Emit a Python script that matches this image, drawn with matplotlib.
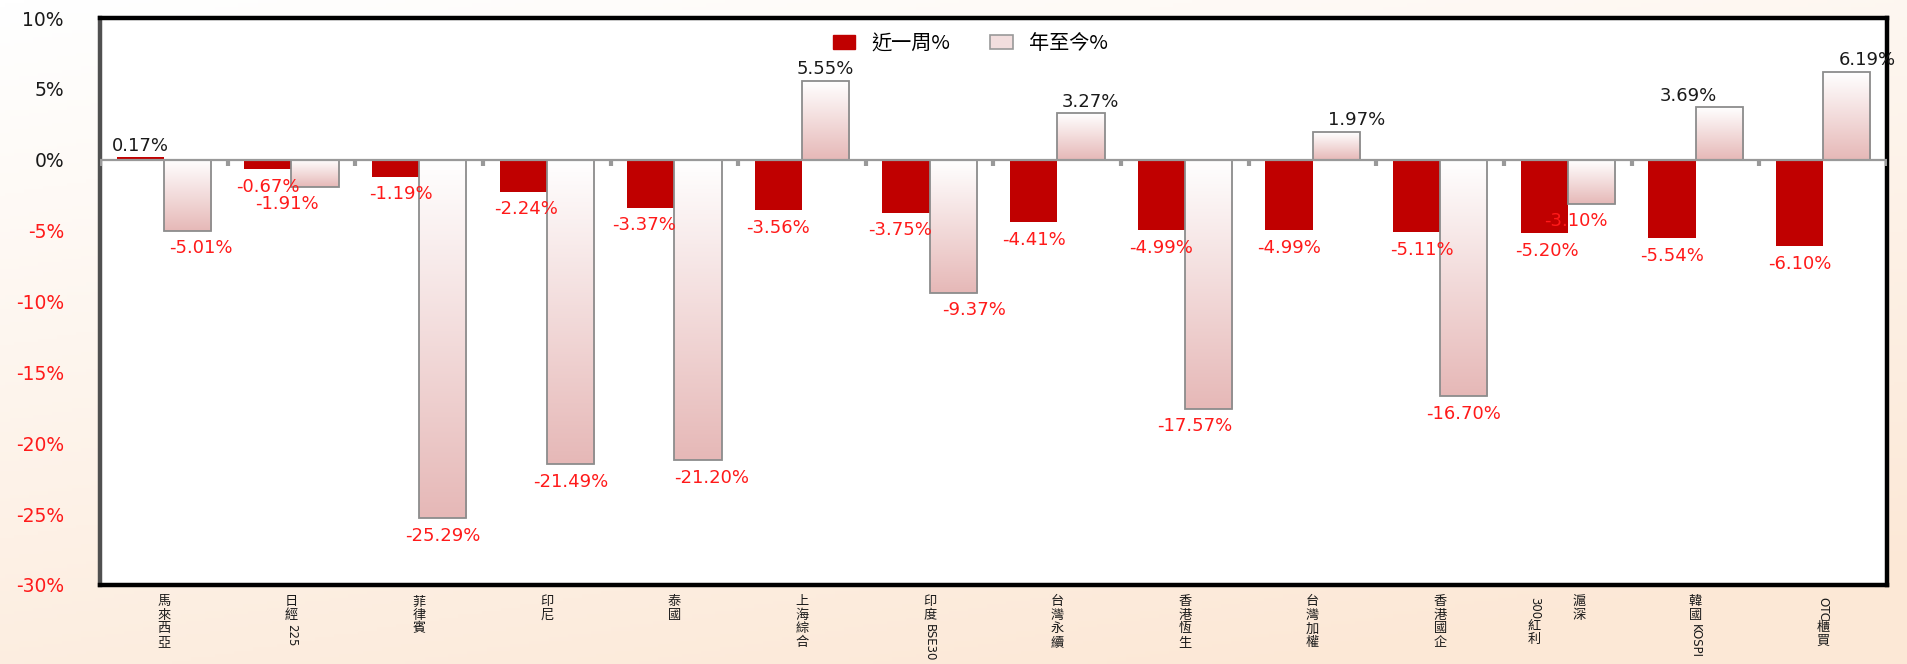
import numpy as np
import matplotlib
matplotlib.use('Agg')
import matplotlib.pyplot as plt
from matplotlib.patches import Patch
from matplotlib.colors import LinearSegmentedColormap
from matplotlib.textpath import TextPath
from matplotlib.font_manager import FontProperties
import matplotlib.transforms as mtransforms

categories = ['馬來西亞', '日經225', '菲律賓', '印尼', '泰國', '上海綜合', '印度BSE30',
              '台灣永續', '香港恆生', '台灣加權', '香港國企', '滬深\n300紅利', '韓國KOSPI', 'OTC櫃買']
weekly = [0.17, -0.67, -1.19, -2.24, -3.37, -3.56, -3.75, -4.41, -4.99, -4.99, -5.11, -5.20, -5.54, -6.10]
ytd = [-5.01, -1.91, -25.29, -21.49, -21.20, 5.55, -9.37, 3.27, -17.57, 1.97, -16.70, -3.10, 3.69, 6.19]
series_names = ['近一周%', '年至今%']
yticks = [10, 5, 0, -5, -10, -15, -20, -25, -30]

# horizontal nudges (points) of the value labels, as placed in the reference
ytd_label_nudge = [10, -20, 0, 0, 10, 0, 15, 7, -10, 15, 0, -11, -22, 15]
weekly_label_nudge = [0, 0, 4, 2, -5, 0, -4, 0, 0, 0, 4, 2, 0, 0]

CJK = ['Noto Sans CJK TC', 'DejaVu Sans']
RED = '#c00000'
LABEL_RED = '#ff1a1a'
PINK = '#e6b8b7'

plt.rcParams['font.family'] = ['DejaVu Sans', 'Noto Sans CJK TC']

fig = plt.figure(figsize=(19.08, 6.64), dpi=100)

# background gradient
bg = fig.add_axes([0, 0, 1, 1], zorder=-10)
bg.axis('off')
gy, gx = np.mgrid[0:1:200j, 0:1:400j]
t = np.clip(0.75 * gy + 0.35 * gx, 0, 1)
bg_cmap = LinearSegmentedColormap.from_list('bg', ['#ffffff', '#fce8d6'])
bg.imshow(t, cmap=bg_cmap, aspect='auto', extent=[0, 1, 0, 1], origin='upper')
bg.set_xlim(0, 1)
bg.set_ylim(0, 1)

ax = fig.add_axes([100 / 1908, 1 - 585 / 664, 1787 / 1908, 567 / 664])
ax.set_facecolor('white')

n = len(categories)
x = np.arange(n)
w = 0.37

ax.bar(x - w / 2, weekly, width=w, color=RED, zorder=3)
ytd_bars = ax.bar(x + w / 2, ytd, width=w, facecolor='none', edgecolor='#8c8c8c', linewidth=1.3, zorder=4)

grad_cmap = LinearSegmentedColormap.from_list('g', ['#ffffff', PINK])
grad = np.linspace(0, 1, 256).reshape(-1, 1)
for b in ytd_bars:
    x0, y0 = b.get_x(), b.get_y()
    bw, bh = b.get_width(), b.get_height()
    lo, hi = min(y0, y0 + bh), max(y0, y0 + bh)
    im = ax.imshow(grad, cmap=grad_cmap, aspect='auto', extent=[x0, x0 + bw, lo, hi],
                   origin='upper', zorder=3.5, interpolation='bicubic')
    im.set_clip_path(b)

ax.set_xlim(-0.5, n - 0.5)
ax.set_ylim(-30, 10)

# zero line with boundary ticks
ax.axhline(0, color='#999999', lw=1.6, zorder=5)
for bx in np.arange(-0.5, n, 1.0):
    ax.plot([bx, bx], [0, -0.45], color='#999999', lw=3, zorder=5, solid_capstyle='butt')

# data labels
VAL_FS = 13
for i in range(n):
    for val, off, nudge in ((weekly[i], -w / 2, weekly_label_nudge[i]), (ytd[i], w / 2, ytd_label_nudge[i])):
        if val >= 0:
            ax.annotate(f'{val:.2f}%', xy=(i + off, val), xytext=(nudge, 2), textcoords='offset points',
                        ha='center', va='bottom', fontsize=VAL_FS, color='#1a1a1a', zorder=6)
        else:
            ax.annotate(f'{val:.2f}%', xy=(i + off, val), xytext=(nudge, -6), textcoords='offset points',
                        ha='center', va='top', fontsize=VAL_FS, color=LABEL_RED, zorder=6)

# y ticks
ax.set_yticks(yticks)
ax.set_yticklabels([f'{v}%' for v in yticks], fontsize=13.5)
for lab, v in zip(ax.get_yticklabels(), yticks):
    lab.set_color(LABEL_RED if v < 0 else '#1a1a1a')
ax.tick_params(axis='y', length=0, pad=26)
ax.set_xticks([])

# spines
for s in ['top', 'right', 'bottom']:
    ax.spines[s].set_color('black')
    ax.spines[s].set_linewidth(3.2)
ax.spines['left'].set_color('#505050')
ax.spines['left'].set_linewidth(3.2)


# vertical category labels
def is_cjk(c):
    return ord(c) > 0x2E80


def vertical_column(xpos, text, dx_pt, fs, fs_latin):
    trans = mtransforms.blended_transform_factory(ax.transData, ax.transAxes)
    y = 7.5
    tokens, run = [], ''
    for c in text:
        if is_cjk(c):
            if run:
                tokens.append(run)
                run = ''
            tokens.append(c)
        else:
            run += c
    if run:
        tokens.append(run)
    for tok in tokens:
        if is_cjk(tok[0]):
            ax.annotate(tok, xy=(xpos, 0), xycoords=trans, xytext=(dx_pt, -y), textcoords='offset points',
                        ha='center', va='top', fontsize=fs, family=CJK, color='#1a1a1a',
                        annotation_clip=False)
            y += fs * 1.02
        else:
            wid = TextPath((0, 0), tok, size=fs_latin,
                           prop=FontProperties(family='DejaVu Sans')).get_extents().width
            ax.annotate(tok, xy=(xpos, 0), xycoords=trans, xytext=(dx_pt, -y - 1), textcoords='offset points',
                        ha='center', va='top', rotation=270, fontsize=fs_latin, family='DejaVu Sans',
                        color='#1a1a1a', annotation_clip=False)
            y += wid + 2


for i, lab in enumerate(categories):
    cols = lab.split('\n')
    k = len(cols)
    for j, col in enumerate(cols):
        dx = (k - 1) / 2 * 16 - j * 32 if k > 1 else 0
        vertical_column(i, col, dx, 9.5, 8.5)

# legend
handles = [Patch(facecolor=RED, edgecolor=RED),
           Patch(facecolor='#f2dede', edgecolor='#999999', linewidth=1.2)]
leg = ax.legend(handles, series_names, loc='upper center', bbox_to_anchor=(0.487, 1.005), ncol=2,
                frameon=False, prop=FontProperties(family=CJK, size=14.5), handlelength=1.1,
                handleheight=0.65, columnspacing=2.0, handletextpad=0.8)

fig.savefig('out.png', dpi=100)
